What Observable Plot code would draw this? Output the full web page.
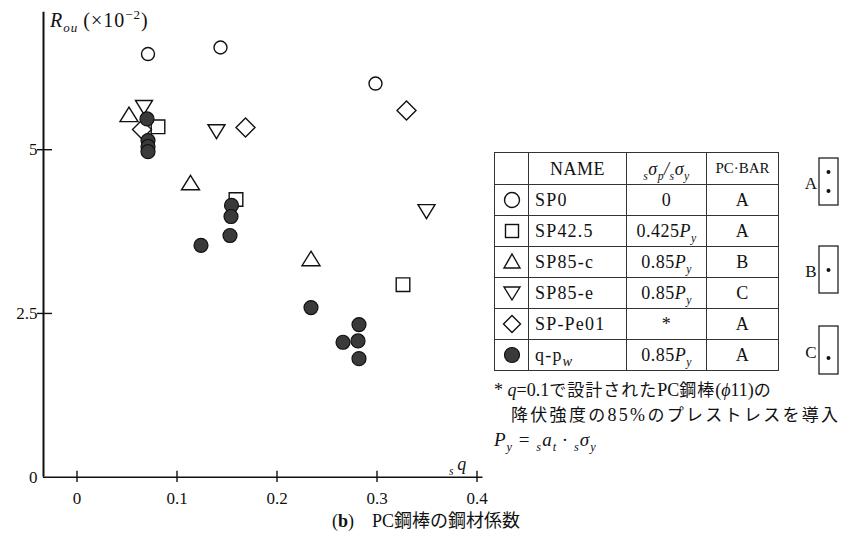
<!DOCTYPE html>
<html><head><meta charset="utf-8">
<script src="https://cdn.jsdelivr.net/npm/d3@7"></script>
<script src="https://cdn.jsdelivr.net/npm/@observablehq/plot@0.6"></script>
<style>
body{margin:0;background:#fff;font-family:"Liberation Serif","DejaVu Serif","Noto Sans CJK JP",serif;color:#111;}
#wrap{position:relative;width:852px;height:546px;overflow:hidden;background:#fff;}
#chart{position:absolute;left:0;top:0;}
.ov{position:absolute;white-space:nowrap;line-height:1;}
table.leg{position:absolute;left:494px;top:152px;border-collapse:collapse;font-size:18px;letter-spacing:0.5px;}
table.leg td{border:1px solid #333;padding:0;text-align:center;vertical-align:middle;line-height:1;}
table.leg tr{height:31px;}
table.leg tr.h{height:32px;}
table.leg td.nm{text-align:left;padding-left:6px;letter-spacing:1.2px;}
table.leg svg{display:block;margin:auto;}
sub,sup{font-size:65%;line-height:0;}
.jp{font-family:"Noto Sans CJK JP",sans-serif;font-size:17px;}
</style></head>
<body><div id="wrap"><div id="chart"></div></div>
<script>
// ---- data ----
const names = ["SP0", "SP42.5", "SP85-c", "SP85-e", "SP-Pe01", "q-pw"];
const ratios = ["0", "0.425Py", "0.85Py", "0.85Py", "*", "0.85Py"];
const bars = ["A", "A", "B", "C", "A", "A"];
const xTicks = [0, 0.1, 0.2, 0.3, 0.4];
const yTicks = [0, 2.5, 5];
const SP0 = [[0.071, 6.46], [0.1435, 6.56], [0.2985, 6.01]];
const SP425 = [[0.081, 5.35], [0.159, 4.24], [0.326, 2.94]];
const SP85c = [[0.052, 5.52], [0.1135, 4.48], [0.234, 3.32]];
const SP85e = [[0.067, 5.66], [0.1395, 5.29], [0.3495, 4.07]];
const SPPe01 = [[0.065, 5.31], [0.1685, 5.34], [0.3295, 5.60]];
const QPW = [[0.070, 5.47], [0.071, 5.14], [0.071, 5.05], [0.071, 4.97],
  [0.1545, 4.15], [0.154, 3.98], [0.153, 3.69], [0.124, 3.54],
  [0.234, 2.59], [0.282, 2.33], [0.281, 2.08], [0.266, 2.06], [0.282, 1.81]];

// ---- symbols ----
const sym = {
  circle: {draw(c){c.moveTo(6.5,0);c.arc(0,0,6.5,0,2*Math.PI);}},
  square: {draw(c){c.rect(-6.8,-6.8,13.6,13.6);}},
  triUp: {draw(c){c.moveTo(0,-8.5);c.lineTo(9,6);c.lineTo(-9,6);c.closePath();}},
  triDown: {draw(c){c.moveTo(0,8);c.lineTo(8.5,-6);c.lineTo(-8.5,-6);c.closePath();}},
  diamond: {draw(c){c.moveTo(0,-9.5);c.lineTo(9.5,0);c.lineTo(0,9.5);c.lineTo(-9.5,0);c.closePath();}},
  dotF: {draw(c){c.moveTo(7,0);c.arc(0,0,7,0,2*Math.PI);}}
};
const hollow = {x: d => d[0], y: d => d[1], r: 1, fill: "white", stroke: "#111", strokeWidth: 1.4};
const font = '"Liberation Serif","DejaVu Serif",serif';

const chart = Plot.plot({
  width: 852, height: 546,
  x: {domain: [0, 0.4], range: [76.5, 476.5], axis: null},
  y: {domain: [0, 5], range: [476.7, 149.2], axis: null},
  style: {fontFamily: font, fontSize: "17px", color: "#111", background: "transparent"},
  marks: [
    Plot.ruleX([-0.0335], {y1: 0, y2: 7.1, strokeWidth: 2, stroke: "#111"}),
    Plot.ruleY([0], {x1: -0.0335, x2: 0.406, strokeWidth: 1.6, stroke: "#111"}),
    Plot.ruleX(xTicks, {x: d => d, y1: -0.08, y2: 0.09, strokeWidth: 1.4, stroke: "#111"}),
    Plot.ruleY(yTicks.filter(d => d > 0), {y: d => d, x1: -0.0395, x2: -0.0245, strokeWidth: 1.4, stroke: "#111"}),
    Plot.text(xTicks, {x: d => d, y: 0, dy: 21, text: d => String(d), fontSize: 17}),
    Plot.text(yTicks, {x: -0.0335, y: d => d, dx: -6, textAnchor: "end", text: d => String(d), fontSize: 17}),
    Plot.dot(SP85c, {...hollow, symbol: sym.triUp}),
    Plot.dot(SP85e, {...hollow, symbol: sym.triDown}),
    Plot.dot(SP425, {...hollow, symbol: sym.square}),
    Plot.dot(SPPe01, {...hollow, symbol: sym.diamond}),
    Plot.dot(SP0, {...hollow, symbol: sym.circle}),
    Plot.dot(QPW, {x: d => d[0], y: d => d[1], r: 1, symbol: sym.dotF, fill: "#3a3a3a", stroke: "#111", strokeWidth: 1.2})
  ]
});
document.getElementById("chart").append(chart);

// ---- overlays (titles, legend table, notes, caption) ----
const wrap = document.getElementById("wrap");
function ov(html, left, top, size, extra) {
  const d = document.createElement("div");
  d.className = "ov"; d.innerHTML = html;
  d.style.left = left + "px"; d.style.top = top + "px"; d.style.fontSize = size + "px";
  if (extra) Object.assign(d.style, extra);
  wrap.append(d);
}
ov('<i>R</i><sub><i>ou</i></sub>&thinsp;(×10<sup>−2</sup>)', 50, 10, 20, {letterSpacing: "1px"});
ov('<sub><i>s</i></sub>&thinsp;<i>q</i>', 449, 455, 18);

const symSvg = [
  '<circle cx="10" cy="10" r="7.5" fill="white" stroke="#111" stroke-width="1.4"/>',
  '<rect x="3.5" y="3.5" width="13" height="13" fill="white" stroke="#111" stroke-width="1.4"/>',
  '<path d="M10,2L18,16L2,16Z" fill="white" stroke="#111" stroke-width="1.4"/>',
  '<path d="M10,17L18,4L2,4Z" fill="white" stroke="#111" stroke-width="1.4"/>',
  '<path d="M10,1.5L18.5,10L10,18.5L1.5,10Z" fill="white" stroke="#111" stroke-width="1.4"/>',
  '<circle cx="10" cy="10" r="7.5" fill="#3a3a3a" stroke="#111" stroke-width="1.2"/>'
];
function fmtRatio(r) {
  if (r.endsWith("Py")) return r.slice(0, -2) + '<i>P</i><sub><i>y</i></sub>';
  return r;
}
function fmtName(n) {
  if (n === "q-pw") return 'q-p<sub style="font-size:80%"><i>w</i></sub>';
  return n;
}
let rows = '<colgroup><col style="width:34px"><col style="width:98px"><col style="width:80px"><col style="width:72px"></colgroup>';
rows += '<tr class="h"><td></td><td>NAME</td><td><i><sub>s</sub>σ<sub>p</sub>/<sub>s</sub>σ<sub>y</sub></i></td><td style="font-size:15px;letter-spacing:0">PC·BAR</td></tr>';
names.forEach((n, i) => {
  rows += `<tr><td><svg width="20" height="20">${symSvg[i]}</svg></td><td class="nm">${fmtName(n)}</td><td>${fmtRatio(ratios[i])}</td><td>${bars[i]}</td></tr>`;
});
const t = document.createElement("table");
t.className = "leg"; t.innerHTML = rows; wrap.append(t);

// bar arrangement sketches A / B / C
const ns = "http://www.w3.org/2000/svg";
const s = document.createElementNS(ns, "svg");
s.setAttribute("width", 852); s.setAttribute("height", 546);
s.style.position = "absolute"; s.style.left = "0"; s.style.top = "0";
s.innerHTML = `
<g font-family='${font}' font-size="17" fill="#111">
<text x="811" y="189" text-anchor="middle">A</text>
<text x="811" y="277" text-anchor="middle">B</text>
<text x="811" y="358" text-anchor="middle">C</text></g>
<g fill="none" stroke="#222" stroke-width="1.3">
<rect x="819" y="158" width="19" height="47"/>
<rect x="819" y="246" width="19" height="47"/>
<rect x="819" y="326" width="19" height="48"/></g>
<g fill="#111"><circle cx="828.5" cy="172" r="2"/><circle cx="828.5" cy="191" r="2"/>
<circle cx="828.5" cy="270" r="2"/><circle cx="828.5" cy="358" r="2"/></g>`;
wrap.append(s);

ov('* <i>q</i>=0.1<span class="jp" style="letter-spacing:1px">で設計された</span>PC<span class="jp" style="letter-spacing:1px">鋼棒</span>(<i>ϕ</i>11)<span class="jp">の</span>', 494, 380, 18);
ov('<span class="jp">降伏強度の</span>85%<span class="jp">のプレストレスを導入</span>', 511, 405, 18, {letterSpacing: "2.3px"});
ov('<i>P</i><sub><i>y</i></sub> = <sub><i>s</i></sub><i>a</i><sub><i>t</i></sub>&thinsp;·&thinsp;<sub><i>s</i></sub><i>σ</i><sub><i>y</i></sub>', 494, 430, 19, {letterSpacing: "1px"});
ov('(<b>b</b>)　PC<span class="jp" style="font-size:18px">鋼棒の鋼材係数</span>', 0, 510, 18, {width: "852px", textAlign: "center"});
</script></body></html>
